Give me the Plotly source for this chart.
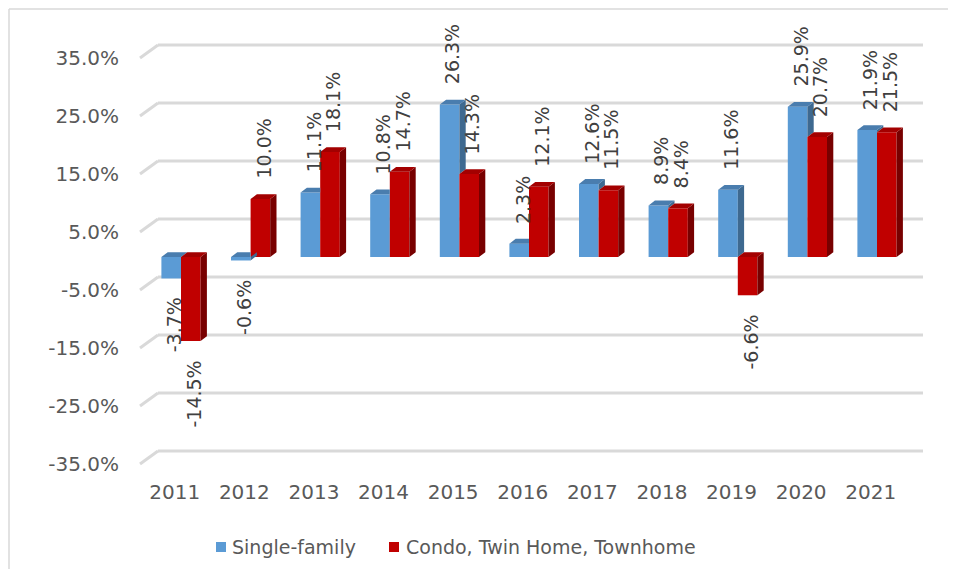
import plotly.graph_objects as go

# ---------------- data ----------------
years = [2011, 2012, 2013, 2014, 2015, 2016, 2017, 2018, 2019, 2020, 2021]
single_family = [-3.7, -0.6, 11.1, 10.8, 26.3, 2.3, 12.6, 8.9, 11.6, 25.9, 21.9]
condo_twin_town = [-14.5, 10.0, 18.1, 14.7, 14.3, 12.1, 11.5, 8.4, -6.6, 20.7, 21.5]
series_names = ["Single-family", "Condo, Twin Home, Townhome"]
y_ticks = [35, 25, 15, 5, -5, -15, -25, -35]
y_tick_labels = ["35.0%", "25.0%", "15.0%", "5.0%", "-5.0%", "-15.0%", "-25.0%", "-35.0%"]

# ---------------- geometry / style ----------------
PAGE_OFF = 8                      # browser body margin
W, H = 940, 561
# plot area in page pixels
PL, PR, PT, PB = 122, 936, 20, 470
ML, MR, MT, MB = PL - PAGE_OFF, W - (PR - PAGE_OFF), PT - PAGE_OFF, H - (PB - PAGE_OFF)
plot_w = PR - PL
plot_h = PB - PT
px_per_cat = 69.6
px_per_pct = 5.8
x_center_px = 181           # page pixel of first group centre
zero_px = 257               # page pixel of bar base
x_range = [years[0] + (PL - x_center_px) / px_per_cat,
           years[0] + (PR - x_center_px) / px_per_cat]
y_range = [(zero_px - PB) / px_per_pct, (zero_px - PT) / px_per_pct]

bw = 19.6 / px_per_cat       # bar width in x units
ddx = 6.3 / px_per_cat       # depth offset x
ddy = 4.8 / px_per_pct       # depth offset y
front_off = -0.69            # front plane offset (labels)
back_off = 1.55              # back wall offset
slant_x0 = (140 - x_center_px) / px_per_cat
slant_x1 = (158 - x_center_px) / px_per_cat
grid_x_end = (923 - x_center_px) / px_per_cat

BLUE, BLUE_SIDE, BLUE_TOP = "#5B9BD5", "#3E6990", "#4A7DAE"
RED, RED_SIDE, RED_TOP = "#C00000", "#780000", "#A30000"
FONT = "DejaVu Sans"
GRID = "#D9D9D9"

fig = go.Figure()

# front faces
fig.add_trace(go.Bar(x=years, y=single_family, width=bw, offset=-bw,
                     marker=dict(color=BLUE, line=dict(width=0)),
                     name=series_names[0], showlegend=False, hoverinfo="skip"))
fig.add_trace(go.Bar(x=years, y=condo_twin_town, width=bw, offset=0,
                     marker=dict(color=RED, line=dict(width=0)),
                     name=series_names[1], showlegend=False, hoverinfo="skip"))


def poly_trace(xs, ys, color):
    return go.Scatter(x=xs, y=ys, mode="lines", fill="toself", fillcolor=color,
                      line=dict(width=0, color=color), showlegend=False,
                      hoverinfo="skip")


# blue side & top faces (clipped where the red bar is in front)
bsx, bsy, btx, bty = [], [], [], []
for yr, b, r in zip(years, single_family, condo_twin_town):
    x0, x1 = yr - bw, yr
    btop, rtop = max(b, 0), max(r, 0)
    if b > 0 and b > rtop:
        lo, hi = rtop, b
    elif b < 0 and b < min(r, 0):
        lo, hi = b, min(r, 0)
    else:
        lo = hi = None
    if lo is not None:
        bsx += [x1, x1, x1 + ddx, x1 + ddx, x1, None]
        bsy += [lo, hi, hi + ddy, lo + ddy, lo, None]
    if btop >= rtop:
        btx += [x0, x1, x1 + ddx, x0 + ddx, x0, None]
        bty += [btop, btop, btop + ddy, btop + ddy, btop, None]
    else:
        btx += [x0, x1, x1, x0 + ddx, x0, None]
        bty += [btop, btop, btop + ddy, btop + ddy, btop, None]
fig.add_trace(poly_trace(bsx, bsy, BLUE_SIDE))
fig.add_trace(poly_trace(btx, bty, BLUE_TOP))

# red side & top faces
rsx, rsy, rtx, rty = [], [], [], []
for yr, r in zip(years, condo_twin_town):
    x0, x1 = yr, yr + bw
    lo, hi = min(r, 0), max(r, 0)
    rsx += [x1, x1, x1 + ddx, x1 + ddx, x1, None]
    rsy += [lo, hi, hi + ddy, lo + ddy, lo, None]
    rtx += [x0, x1, x1 + ddx, x0 + ddx, x0, None]
    rty += [hi, hi, hi + ddy, hi + ddy, hi, None]
fig.add_trace(poly_trace(rsx, rsy, RED_SIDE))
fig.add_trace(poly_trace(rtx, rty, RED_TOP))

# gridlines (back wall + slanted side wall)
shapes = []
for v in y_ticks:
    shapes.append(dict(type="line", xref="x", yref="y", layer="below",
                       x0=years[0] + slant_x0, y0=v + front_off,
                       x1=years[0] + slant_x1, y1=v + back_off,
                       line=dict(color=GRID, width=3)))
    shapes.append(dict(type="line", xref="x", yref="y", layer="below",
                       x0=years[0] + slant_x1, y0=v + back_off,
                       x1=years[0] + grid_x_end, y1=v + back_off,
                       line=dict(color=GRID, width=3)))


def px_to_paper_x(p):
    return (p - PL) / plot_w


def px_to_paper_y(p):
    return 1 - (p - PT) / plot_h


# chart border (left & top visible)
shapes.append(dict(type="line", xref="paper", yref="paper",
                   x0=px_to_paper_x(9), y0=px_to_paper_y(9),
                   x1=px_to_paper_x(9), y1=px_to_paper_y(577),
                   line=dict(color=GRID, width=1.5)))
shapes.append(dict(type="line", xref="paper", yref="paper",
                   x0=px_to_paper_x(9), y0=px_to_paper_y(9),
                   x1=px_to_paper_x(956), y1=px_to_paper_y(9),
                   line=dict(color=GRID, width=1.5)))

# legend (manual)
leg_y = px_to_paper_y(547)
leg_items = [(216, 230, BLUE, series_names[0]), (389, 404, RED, series_names[1])]
annotations = []
for sq_x, tx, col, name in leg_items:
    shapes.append(dict(type="rect", xref="paper", yref="paper",
                       x0=px_to_paper_x(sq_x), x1=px_to_paper_x(sq_x + 10),
                       y0=px_to_paper_y(552), y1=px_to_paper_y(542),
                       fillcolor=col, line=dict(width=0)))
    annotations.append(dict(xref="paper", yref="paper", x=px_to_paper_x(tx), y=leg_y,
                            text=name, showarrow=False, xanchor="left", yanchor="middle",
                            font=dict(family=FONT, size=19, color="#595959")))

# data labels
for yr, b, r in zip(years, single_family, condo_twin_town):
    for xc, v in ((yr - bw / 2 + ddx / 2, b), (yr + bw / 2 + ddx / 2, r)):
        pos = v >= 0
        annotations.append(dict(x=xc, y=v, xref="x", yref="y", text=f"{v:.1f}%",
                                textangle=-90, showarrow=False, xanchor="center",
                                yanchor="bottom" if pos else "top",
                                yshift=18 if pos else -17,
                                font=dict(family=FONT, size=19, color="#404040")))

fig.update_layout(
    width=W, height=H,
    margin=dict(l=ML, r=MR, t=MT, b=MB),
    paper_bgcolor="white", plot_bgcolor="white",
    barmode="overlay", showlegend=False,
    shapes=shapes, annotations=annotations,
    xaxis=dict(range=x_range, showgrid=False, zeroline=False, showline=False,
               tickmode="array", tickvals=[y - 0.09 for y in years],
               ticktext=[str(y) for y in years], ticks="",
               ticklabelstandoff=8,
               tickfont=dict(family=FONT, size=20, color="#595959")),
    yaxis=dict(range=y_range, showgrid=False, zeroline=False, showline=False,
               tickmode="array", tickvals=[v + front_off for v in y_ticks],
               ticktext=y_tick_labels, ticks="", ticklabelstandoff=2,
               tickfont=dict(family=FONT, size=20, color="#595959")),
)

fig.write_html("out.html")
